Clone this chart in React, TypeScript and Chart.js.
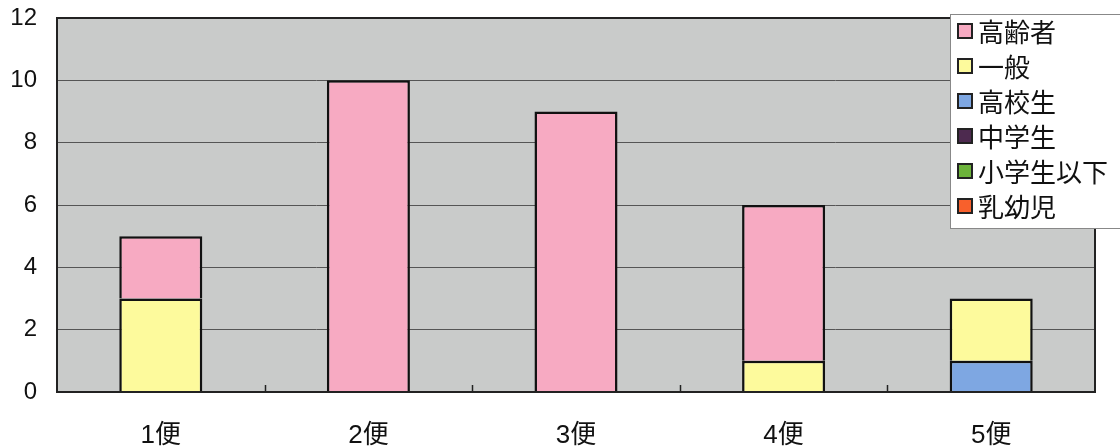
import { useEffect, useRef } from "react";
import { Chart, registerables, type Plugin } from "chart.js";

Chart.register(...registerables);

const categories = ["1便", "2便", "3便", "4便", "5便"];

// stacking order, bottom first
const seriesNames = ["乳幼児", "小学生以下", "中学生", "高校生", "一般", "高齢者"];
const infant = [0, 0, 0, 0, 0];
const elementary = [0, 0, 0, 0, 0];
const juniorHigh = [0, 0, 0, 0, 0];
const highSchool = [0, 0, 0, 0, 1];
const general = [3, 0, 0, 1, 2];
const elderly = [2, 10, 9, 5, 0];
const seriesValues = [infant, elementary, juniorHigh, highSchool, general, elderly];
const seriesColors = ["#f8602c", "#6cb33a", "#4d2a4f", "#7ea7e2", "#fdfa9c", "#f7aac2"];

const yTicks = [0, 2, 4, 6, 8, 10, 12];

const FONT = "'Liberation Sans', 'Noto Sans CJK JP', sans-serif";

const plotFrame: Plugin<"bar"> = {
  id: "plotFrame",
  beforeDraw(chart) {
    const { ctx, chartArea: a } = chart;
    ctx.save();
    ctx.fillStyle = "#c9cbca";
    ctx.fillRect(a.left, a.top, a.right - a.left, a.bottom - a.top);
    ctx.restore();
  },
  afterDatasetsDraw(chart) {
    const { ctx, chartArea: a } = chart;
    const x = chart.scales.x;
    ctx.save();
    ctx.strokeStyle = "#222";
    ctx.lineWidth = 1.5;
    for (let i = 1; i < categories.length; i++) {
      const px = Math.round(x.getPixelForValue(i - 0.5)) + 0.5;
      ctx.beginPath();
      ctx.moveTo(px, a.bottom);
      ctx.lineTo(px, a.bottom - 7);
      ctx.stroke();
    }
    ctx.strokeStyle = "#222";
    ctx.lineWidth = 2;
    ctx.strokeRect(a.left, a.top, a.right - a.left, a.bottom - a.top);
    ctx.restore();
  },
};

export default function App() {
  const canvasRef = useRef<HTMLCanvasElement>(null);

  useEffect(() => {
    document.body.style.margin = "0";
    if (!canvasRef.current) return;
    const chart = new Chart(canvasRef.current, {
      type: "bar",
      data: {
        labels: categories,
        datasets: seriesNames.map((name, i) => ({
          label: name,
          data: seriesValues[i].map((v) => (v === 0 ? null : v)),
          backgroundColor: seriesColors[i],
          borderColor: "#111",
          borderWidth: 2.5,
          borderSkipped: "bottom" as const,
          barPercentage: 0.4,
          categoryPercentage: 1,
        })),
      },
      options: {
        animation: false,
        responsive: false,
        layout: { padding: { left: 0, right: 25, top: 18, bottom: 0 } },
        plugins: { legend: { display: false }, tooltip: { enabled: false } },
        scales: {
          x: {
            stacked: true,
            grid: { display: false },
            border: { display: false },
            ticks: { color: "#111", font: { family: FONT, size: 26 }, padding: 20 },
            afterFit: (s) => {
              s.height = 54;
              s.paddingLeft = 0;
              s.paddingRight = 0;
            },
          },
          y: {
            stacked: true,
            min: 0,
            max: 12,
            afterBuildTicks: (s) => {
              s.ticks = yTicks.map((v) => ({ value: v }));
            },
            grid: { color: "#555", lineWidth: 1, drawTicks: false },
            border: { display: false },
            ticks: { color: "#111", font: { family: FONT, size: 24 }, padding: 20 },
            afterFit: (s) => {
              s.width = 57;
              s.paddingTop = 0;
              s.paddingBottom = 0;
            },
          },
        },
      },
      plugins: [plotFrame],
    });
    return () => chart.destroy();
  }, []);

  const legendOrder = [...seriesNames.keys()].reverse();

  return (
    <div style={{ position: "relative", width: 1120, height: 446, overflow: "hidden", background: "#fff" }}>
      <canvas ref={canvasRef} width={1120} height={446} />
      <div
        style={{
          position: "absolute",
          left: 950,
          top: 14,
          width: 185,
          height: 215,
          background: "#fff",
          border: "1px solid #888",
          boxSizing: "border-box",
          paddingTop: 0,
          fontFamily: "'Noto Sans CJK JP', sans-serif",
          fontSize: 26,
          color: "#111",
        }}
      >
        {legendOrder.map((i) => (
          <div key={seriesNames[i]} style={{ display: "flex", alignItems: "center", height: 35, paddingLeft: 6, marginTop: i === legendOrder[0] ? -2 : 0 }}>
            <span
              style={{
                width: 16,
                height: 16,
                background: seriesColors[i],
                border: "2px solid #222",
                boxSizing: "border-box",
                marginRight: 5,
              }}
            />
            <span style={{ lineHeight: "35px" }}>{seriesNames[i]}</span>
          </div>
        ))}
      </div>
    </div>
  );
}
